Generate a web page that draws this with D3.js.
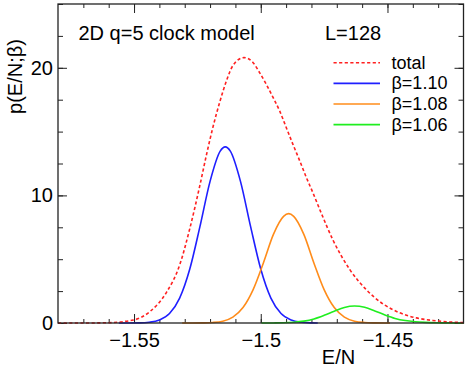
<!DOCTYPE html>
<html><head><meta charset="utf-8">
<script src="https://cdn.jsdelivr.net/npm/d3@7"></script>
<style>
body{margin:0;background:#fff}
svg{display:block}
text{font-family:"Liberation Sans",Arial,Helvetica,sans-serif;fill:#000}
</style>
</head><body>
<svg id="chart" width="469" height="373"></svg>
<script>
// ---- data ----
const totalE = [-1.580,-1.570,-1.5608,-1.5503,-1.5437,-1.5372,-1.5319,-1.5280,-1.5240,-1.5214,-1.5188,-1.5162,-1.5135,-1.5109,-1.5066,-1.5030,-1.5004,-1.4978,-1.4952,-1.4925,-1.4899,-1.4873,-1.4846,-1.4820,-1.4794,-1.4761,-1.4715,-1.4649,-1.4583,-1.4518,-1.4452,-1.4386,-1.4321,-1.4255,-1.4200];
const totalP = [0,0.0,0.02,0.23,0.9,2.4,4.6,7.4,10.8,13.2,15.4,17.3,19.0,20.2,20.8,20.4,19.6,18.7,17.7,16.6,15.3,14.0,12.7,11.4,10.2,8.6,6.5,4.2,2.6,1.5,0.8,0.4,0.2,0.08,0.03];

const b110E = [-1.556,-1.552,-1.548,-1.544,-1.540,-1.536,-1.532,-1.528,-1.524,-1.520,-1.516,-1.514,-1.512,-1.508,-1.504,-1.500,-1.496,-1.492,-1.488,-1.484,-1.480,-1.4775];
const b110P = [0,0.00,0.01,0.06,0.23,0.74,1.95,4.23,7.55,11.1,13.47,13.8,13.47,11.1,7.55,4.23,1.95,0.74,0.23,0.06,0.01,0];

const b108E = [-1.531,-1.527,-1.523,-1.519,-1.515,-1.511,-1.507,-1.503,-1.499,-1.495,-1.491,-1.489,-1.487,-1.483,-1.479,-1.475,-1.471,-1.467,-1.463,-1.459,-1.455,-1.451,-1.449];
const b108P = [0,0.00,0.01,0.04,0.14,0.46,1.21,2.62,4.69,6.95,8.36,8.57,8.36,6.95,4.69,2.62,1.21,0.46,0.14,0.04,0.01,0.00,0];

const b106E = [-1.4997,-1.495,-1.491,-1.487,-1.483,-1.479,-1.475,-1.471,-1.467,-1.463,-1.459,-1.455,-1.451,-1.447,-1.443,-1.439,-1.435,-1.431,-1.427,-1.423,-1.420];
const b106P = [0.00,0.005,0.017,0.055,0.145,0.32,0.60,0.93,1.22,1.33,1.23,0.95,0.63,0.36,0.19,0.10,0.05,0.02,0.01,0.00,0];

const seriesNames = ["total","β=1.10","β=1.08","β=1.06"];
const xMajorTicks = [-1.55,-1.5,-1.45];
const xTickLabels = ["\u22121.55","\u22121.5","\u22121.45"];
const yMajorTicks = [0,10,20];
const yTickLabels = ["0","10","20"];

// ---- layout ----
const L=58,R=463.5,T=4,B=323;
const svg=d3.select("#chart");
const x=d3.scaleLinear().domain([-1.58,-1.42]).range([L,R]);
const y=d3.scaleLinear().domain([0,25]).range([B,T]);

const xMinor=d3.range(-1.57,-1.4205,0.01).map(v=>+v.toFixed(3));
const yMinor=d3.range(0,25.01,2.5);

function styleAxis(g){
  g.select(".domain").remove();
  g.selectAll(".tick line").attr("stroke","#222").attr("stroke-width",1);
  g.selectAll("text").attr("font-size",20).style("font-family","'Liberation Sans',Arial,sans-serif");
}
// bottom
svg.append("g").attr("transform",`translate(0,${B})`)
  .call(d3.axisBottom(x).tickValues(xMinor).tickSize(-4).tickFormat("")).call(styleAxis);
svg.append("g").attr("transform",`translate(0,${B})`)
  .call(d3.axisBottom(x).tickValues(xMajorTicks).tickSize(-9).tickPadding(10)
    .tickFormat((d,i)=>xTickLabels[i])).call(styleAxis);
// top
svg.append("g").attr("transform",`translate(0,${T})`)
  .call(d3.axisTop(x).tickValues(xMinor).tickSize(-4).tickFormat("")).call(styleAxis);
svg.append("g").attr("transform",`translate(0,${T})`)
  .call(d3.axisTop(x).tickValues(xMajorTicks).tickSize(-9).tickFormat("")).call(styleAxis);
// left
svg.append("g").attr("transform",`translate(${L},0)`)
  .call(d3.axisLeft(y).tickValues(yMinor).tickSize(-5).tickFormat("")).call(styleAxis);
svg.append("g").attr("transform",`translate(${L},0)`)
  .call(d3.axisLeft(y).tickValues(yMajorTicks).tickSize(-9).tickPadding(5)
    .tickFormat((d,i)=>yTickLabels[i])).call(styleAxis);
// right
svg.append("g").attr("transform",`translate(${R},0)`)
  .call(d3.axisRight(y).tickValues(yMinor).tickSize(-5).tickFormat("")).call(styleAxis);
svg.append("g").attr("transform",`translate(${R},0)`)
  .call(d3.axisRight(y).tickValues(yMajorTicks).tickSize(-9).tickFormat("")).call(styleAxis);

// curves
const line=d3.line().x(d=>x(d[0])).y(d=>y(d[1])).curve(d3.curveMonotoneX);
const series=[
  {E:b110E,P:b110P,color:"#1f1fff",dash:null},
  {E:b108E,P:b108P,color:"#ff8c1a",dash:null},
  {E:b106E,P:b106P,color:"#1fee1f",dash:null},
  {E:totalE,P:totalP,color:"#ff2020",dash:"3.2,2.4"}
];
series.forEach(s=>{
  svg.append("path").datum(s.E.map((e,i)=>[e,s.P[i]]))
    .attr("d",line).attr("fill","none").attr("stroke",s.color)
    .attr("stroke-width",1.6).attr("stroke-dasharray",s.dash);
});

// frame
svg.append("rect").attr("x",L).attr("y",T).attr("width",R-L).attr("height",B-T)
  .attr("fill","none").attr("stroke","#222").attr("stroke-width",1.3);

// texts
svg.append("text").attr("x",78.5).attr("y",39.5).attr("font-size",20).text("2D q=5 clock model");
svg.append("text").attr("x",325).attr("y",39.5).attr("font-size",20).text("L=128");
svg.append("text").attr("x",338.5).attr("y",363.5).attr("font-size",20).attr("text-anchor","middle").text("E/N");
svg.append("text").attr("transform","translate(22,76.5) rotate(-90)").attr("font-size",20)
  .attr("text-anchor","middle").text("p(E/N;β)");

// legend
const legColors=["#ff2020","#1f1fff","#ff8c1a","#1fee1f"];
const legY=[62.8,83.4,104,124.6];
seriesNames.forEach((n,i)=>{
  svg.append("line").attr("x1",333.5).attr("x2",380).attr("y1",legY[i]).attr("y2",legY[i])
    .attr("stroke",legColors[i]).attr("stroke-width",1.6)
    .attr("stroke-dasharray",i===0?"3.2,2.4":null);
  svg.append("text").attr("x",391.5).attr("y",legY[i]+6).attr("font-size",18).text(n);
});
</script>
</body></html>
